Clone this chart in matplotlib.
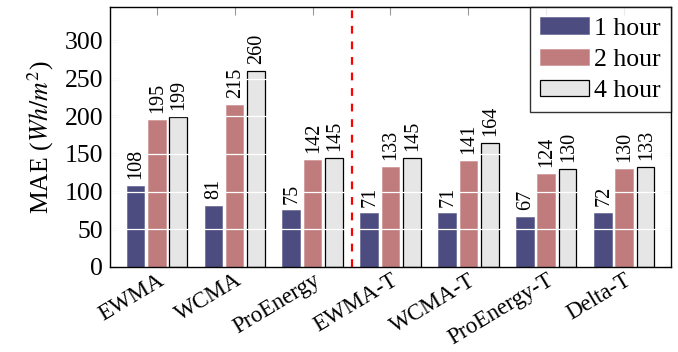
import matplotlib
matplotlib.use("Agg")
import matplotlib.pyplot as plt
import matplotlib.transforms as mtransforms
import numpy as np

categories = ["EWMA", "WCMA", "ProEnergy", "EWMA-T", "WCMA-T", "ProEnergy-T", "Delta-T"]
series_names = ["1 hour", "2 hour", "4 hour"]
v1 = [108, 81, 75, 71, 71, 67, 72]
v2 = [195, 215, 142, 133, 141, 124, 130]
v4 = [199, 260, 145, 145, 164, 130, 133]
yticks = [0, 50, 100, 150, 200, 250, 300]

plt.rcParams['font.family'] = ['Liberation Serif', 'DejaVu Serif']
plt.rcParams['mathtext.fontset'] = 'stix'

fig = plt.figure(figsize=(6.78, 3.52), dpi=100)
ax = fig.add_axes([0.1622, 0.2415, 0.8275, 0.7385])

x = np.arange(len(categories))
w = 0.227
off = 0.273
colors = ["#4c4c80", "#c07c7c", "#e6e6e6"]
edges = ["#5a5a8c", "#c88a8a", "black"]
lws = [0.4, 0.4, 0.9]
for i, (vals, name) in enumerate(zip([v1, v2, v4], series_names)):
    pos = x + (i - 1) * off
    ax.bar(pos, vals, width=w, color=colors[i], edgecolor=edges[i],
           linewidth=lws[i], label=name, zorder=2)
    for p, v in zip(pos, vals):
        ax.annotate(str(v), (p, v), xytext=(0.5, 5), textcoords="offset points",
                    rotation=90, ha="center", va="bottom", fontsize=14.5, zorder=3)

for t in yticks[1:]:
    ax.axhline(t, color="white", lw=0.9, zorder=2.5)

ax.axvline(2.5, color="red", lw=1.6, ls=(0, (3.5, 3.5)), zorder=5)

ax.set_xlim(-0.6, 6.6)
ax.set_ylim(0, 345)
ax.set_yticks(yticks)
ax.set_xticks(x)
ax.set_xticklabels(categories, rotation=31, ha="right", rotation_mode="anchor", fontsize=16.5)
shift = mtransforms.ScaledTranslation(-4 / 100, 0, fig.dpi_scale_trans)
for lab in ax.get_xticklabels():
    lab.set_transform(lab.get_transform() + shift)
ax.tick_params(axis="y", labelsize=18.5, pad=5)
ax.tick_params(direction="in", length=6, color="#999999", top=True, right=True, width=0.8)
ax.tick_params(axis="x", pad=2)
for s in ax.spines.values():
    s.set_linewidth(1.0)
    s.set_zorder(6)
ax.set_ylabel("MAE ($Wh/m^2$)", fontsize=18.5, labelpad=6)

leg = ax.legend(loc="upper right", fontsize=18.5, frameon=True, fancybox=False,
                edgecolor="black", handlelength=1.9, handleheight=0.6,
                borderaxespad=0.0, handletextpad=0.2, labelspacing=0.35, borderpad=0.4)
leg.get_frame().set_linewidth(1.0)
leg.set_zorder(10)

fig.savefig("out.png", dpi=100)
